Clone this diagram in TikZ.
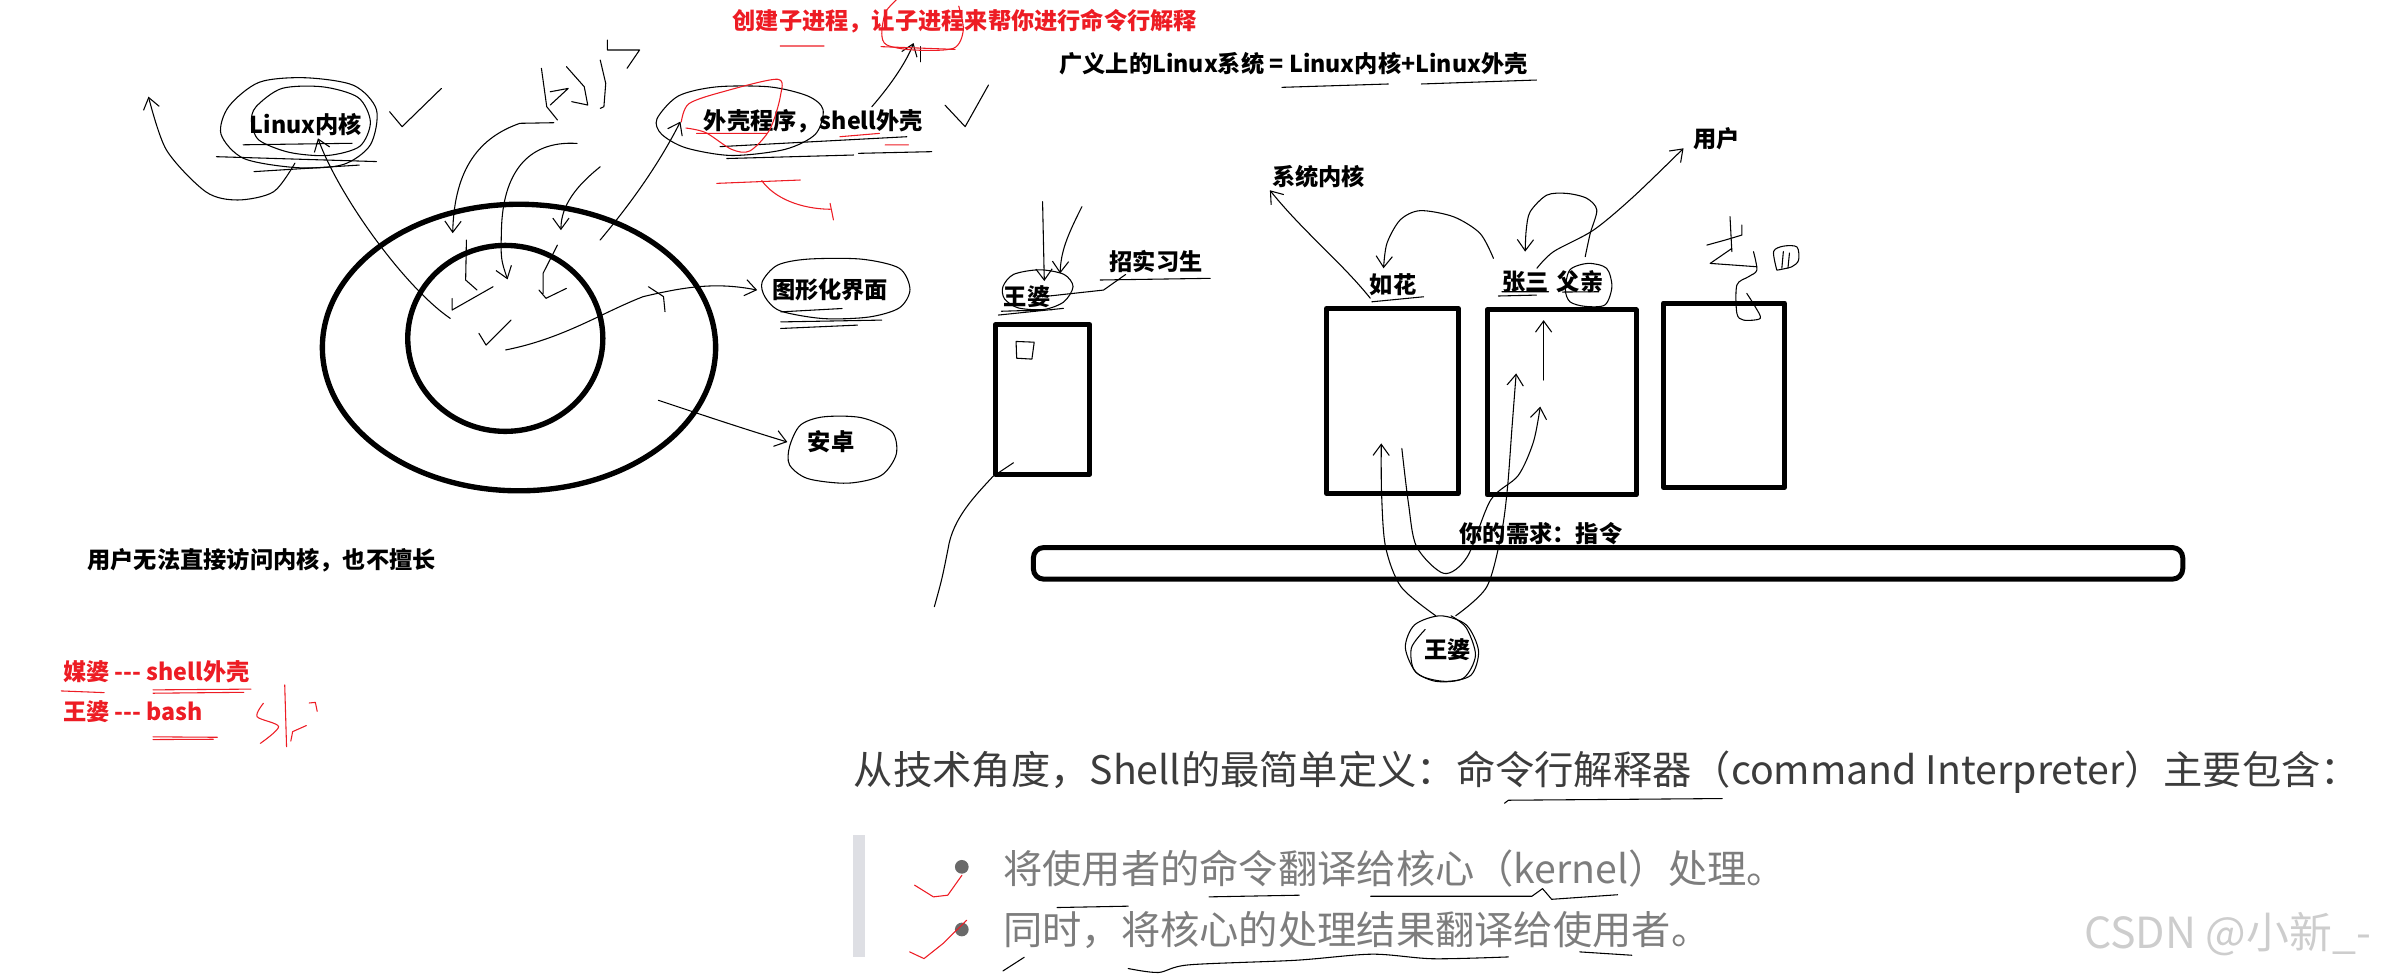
\documentclass[tikz,border=0pt]{standalone}
\usepackage{fontspec}
\setmainfont{Noto Sans CJK SC}
\usetikzlibrary{arrows.meta,positioning}
\definecolor{inkred}{RGB}{237,28,36}
\definecolor{headgray}{RGB}{60,60,60}
\definecolor{bulgray}{RGB}{125,125,125}
\definecolor{dotgray}{RGB}{105,105,105}
\definecolor{bargray}{RGB}{222,223,228}
\definecolor{markgray}{RGB}{205,205,205}

\begin{document}
\begin{tikzpicture}[x=0.03cm, y=-0.03cm, line join=round, line cap=round,
    tag/.style={font=\bfseries\fontsize{13}{15}\selectfont, inner sep=1pt},
    redtag/.style={tag, text=inkred},
    big/.style={font=\fontsize{22}{26}\selectfont, inner sep=0pt, anchor=west},
    scrib/.style={line width=0.6pt},
    redscrib/.style={line width=0.6pt, draw=inkred},
    tip/.style={-{Straight Barb[length=2.2mm,width=3.2mm]}},
    ring/.style={line width=3pt},
    frame/.style={draw, line width=2.8pt, inner sep=0pt}]

    \useasboundingbox (0,0) rectangle (1568,641);

    % left half: kernel and shell
    \coordinate (shellc) at (340.5,228);
    \coordinate (kernc) at (331.5,222);
    \draw[ring] (shellc) ellipse [x radius=129, y radius=94];
    \draw[ring] (kernc) ellipse [x radius=64, y radius=61];

    \node (crtxt) [redtag] at (633,14) {创建子进程，让子进程来帮你进行命令行解释};
    \node (gdef) [tag] at (848.6,42) {广义上的Linux系统 = Linux内核+Linux外壳};
    \node (kern) [tag] at (200.6,82) {Linux内核};
    \node (shell) [tag] at (533.6,79.8) {外壳程序，shell外壳};
    \node (gui) [tag] at (544.6,190.3) {图形化界面};
    \node (andr) [tag] at (545.2,290) {安卓};
    \node (note) [tag, anchor=west] at (56,367.5) {用户无法直接访问内核，也不擅长};
    \node (mp) [redtag, anchor=west] at (40,441) {媒婆 {-}{-}{-} shell外壳};
    \node (wpb) [redtag, anchor=west] at (40,467) {王婆 {-}{-}{-} bash};

    % loops round the labels
    \draw[scrib] plot[smooth cycle] coordinates {(150,70) (170,54) (200,51) (232,56) (247,72) (243,95) (225,108) (195,110) (160,104) (145,88)};
    \draw[scrib] plot[smooth cycle] coordinates {(168,70) (185,58) (212,57) (235,64) (243,80) (236,96) (215,102) (190,100) (170,92) (165,80)};
    \draw[scrib] (159.5,95) -- (231,94) (142,102.8) -- (247,106) (166.6,112.6) -- (235.7,108.3);
    \draw[scrib] plot[smooth cycle] coordinates {(431,78) (445,63) (470,57) (505,57) (530,63) (540,72) (535,88) (515,98) (480,102) (450,97) (434,88)};
    \draw[scrib] (472.4,96.2) -- (594.9,89.7) (476.8,104) -- (560,101.7) (563.2,100.6) -- (611.3,99.5);
    \draw[redscrib] plot[smooth] coordinates {(447,80) (452,68) (475,60) (510,52) (512,63) (505,85) (492,99) (480,98) (463,87) (450,84)};
    \draw[redscrib] (457,87.5) -- (503,87.5) (551,89.7) -- (577,87.5) (580.7,95.1) -- (596,95.1);
    \draw[scrib] plot[smooth cycle] coordinates {(500,185) (510,174) (530,170) (565,170) (590,176) (597,190) (590,202) (570,208) (540,209) (512,204) (502,195)};
    \draw[scrib] (512.2,204.6) -- (552.4,202.4) (512.2,211.2) -- (578.5,210) (512.2,215.5) -- (562.5,213.3);
    \draw[scrib] plot[smooth cycle] coordinates {(518,293) (525,279) (540,273.5) (565,274) (585,283) (588,298) (578,312) (556,317) (530,314) (518,305)};

    % arrows of the left half
    \coordinate (lfree) at (97.4,63.4);
    \draw[scrib, tip] plot[smooth] coordinates {(193.5,107) (179.5,125.8) (156,131.2) (135,125.8) (109.2,98.4) (lfree)};
    \coordinate (core1) at (295.4,208.9);
    \draw[scrib, tip] (core1) .. controls (265,188) and (222,128) .. ([xshift=0.24cm]kern.south);
    \draw[scrib] (255.6,73.3) -- (263.8,83.1) -- (289.6,58);
    % hand written word above the ring
    \draw[scrib] (355.2,44.8) -- (358.7,70) -- (365.7,78.7);
    \draw[scrib] (361,60.2) -- (372.8,58) -- (361,68.9);
    \draw[scrib] (371.6,43.7) -- (383.3,56.9) -- (385.6,68.9) -- (375.1,66.7);
    \draw[scrib] (393.8,39.4) -- (397.4,54.7) -- (396.2,70) -- (393.8,71.1);
    \draw[scrib] (398.5,26.3) -- (398.5,32.8) -- (419.6,32.8) -- (411.4,44.8);
    \draw[scrib, tip] (363.4,80.5) -- (341.1,80.9) .. controls (315,90) and (298,110) .. (297,153);
    \draw[scrib, tip] (378.6,94.1) .. controls (345,92) and (330,115) .. (329,150) .. controls (328.5,170) .. (333,183.3);
    \draw[scrib, tip] (393.8,109.4) .. controls (378,122) and (368,135) .. (368,151);
    \draw[scrib] (306,157.5) -- (305.5,183.7) -- (313,190.3);
    \draw[scrib] (296.6,195.8) -- (296.6,203.4) -- (323.5,188.1);
    \draw[scrib] (365.7,160.8) -- (356.3,179.3) -- (356.3,192.5) (353.6,190.3) -- (358.2,195.7) -- (371.6,189.2);
    \draw[scrib] (314.2,218.7) -- (318.9,226.4) -- (335.3,210);
    \coordinate (shellfoot) at (393.7,157.5);
    \draw[scrib, tip] (shellfoot) .. controls (410,138) and (430,112) .. ([xshift=-0.42cm]shell.west);
    \coordinate (guifoot) at (331.7,229.6);
    \draw[scrib, tip] (guifoot) .. controls (370,222) and (395,205) .. (422,194.6) .. controls (450,188) and (470,185) .. ([xshift=-0.25cm]gui.west);
    \draw[scrib] (425.4,188.1) -- (435.3,194.6) -- (436.3,204.5);
    \coordinate (andrfoot) at (431.9,262.6);
    \draw[scrib, tip] (andrfoot) .. controls (460,272) and (490,282) .. ([xshift=-0.36cm]andr.west);
    \draw[scrib, tip] (572,70) .. controls (585,55) and (595,40) .. ([xshift=-1.01cm, yshift=-0.15cm]crtxt.south);
    \draw[scrib] (603.6,30.6) -- (603.6,40.5);
    \draw[scrib] (620,69) -- (633.2,83.1) -- (648.5,55.8);
    \draw[redscrib] plot[smooth] coordinates {(629,4) (632,19.7) (625.5,31.7) (599.3,32.8) (581.8,29.5) (578.5,21.9) (581,8) (588,0)};
    \draw[redscrib] (511.8,30.2) -- (540.7,30.2) (578,30.6) -- (626.6,32.4);
    \draw[redscrib] (470.2,120.3) -- (525,118.1);
    \draw[redscrib] (499.8,118.5) .. controls (508,130) and (525,137) .. (544.6,137.3) (544.6,133.4) -- (546.8,144.3);
    \draw[redscrib] (100.4,452.6) -- (164.7,452.1) (100.4,454.8) -- (160,454.2) (40.2,453.3) -- (68.3,454.4);
    \draw[redscrib] (100.4,483.4) -- (142.6,483.7) (100.4,485.2) -- (140,485);
    \draw[redscrib] plot[smooth] coordinates {(172.8,461.4) (168.7,470.2) (182.8,476.7) (170.8,487.7)};
    \draw[redscrib] (186.8,449.4) -- (188,489.9);
    \draw[redscrib] (190.8,486.2) -- (192,480) -- (201,476) (202.9,461.2) -- (206.9,460.8) -- (208.1,466.7);

    % right half: the matchmaker story
    \node (wp) [tag] at (673.8,194.7) {王婆};
    \node (intern) [tag] at (758.5,171.3) {招实习生};
    \node (syskern) [tag] at (865,116) {系统内核};
    \node (ruhua) [tag] at (914,187) {如花};
    \node (zs) [tag] at (1000.7,184.8) {张三};
    \node (fq) [tag] at (1036.7,184.8) {父亲};
    \node (user) [tag] at (1126,90.7) {用户};
    \node (need) [tag] at (1011,350) {你的需求：指令};
    \node (wplow) [tag] at (949.8,426.5) {王婆};

    \node (wpbox) [frame, minimum width=1.86cm, minimum height=2.94cm] at (684,262) {};
    \node (rhbox) [frame, minimum width=2.59cm, minimum height=3.64cm] at (913.5,263) {};
    \node (zsbox) [frame, minimum width=2.93cm, minimum height=3.64cm] at (1024.5,264) {};
    \node (lsbox) [frame, minimum width=2.38cm, minimum height=3.63cm] at (1131,259.3) {};
    \node (cmdbar) [frame, rounded corners=0.2cm, minimum width=22.62cm, minimum height=0.62cm] at (1055,369.6) {};

    \draw[scrib] (841,57.3) -- (910.8,55.1) (932.6,55.1) -- (1008,52.5);
    \draw[scrib] plot[smooth cycle] coordinates {(658,188) (665,180) (682,177) (698,180) (704,188) (698,198) (685,203) (668,202) (659,196)};
    \draw[scrib] (655,206.7) -- (697.7,202.3) (657,204.2) -- (690,203.2);
    \draw[scrib, tip] (684,132.3) -- ([xshift=0.34cm, yshift=0.05cm]wp.north);
    \draw[scrib, tip] (709.8,135.6) .. controls (700,155) and (696,165) .. (695.5,179.4);
    \draw[scrib] ([xshift=-0.2cm]wp.east) -- (724,190.3) -- ([xshift=-0.6cm]intern.south);
    \draw[scrib] (721.8,183.7) -- (794,182.6);
    \draw[scrib] (666.6,224) -- (678.5,224.5) -- (677,235.6) -- (667,235) -- cycle;
    \coordinate (wpfree) at (613,398);
    \draw[scrib] (664.9,303.6) -- (wpbox.south west) .. controls (640,325) and (625,340) .. (622,360) .. controls (618,380) .. (wpfree);

    \draw[scrib, tip] ([xshift=-0.45cm]ruhua.south) .. controls (880,172) and (855,152) .. (syskern.south west);
    \draw[scrib] (900,198) -- (934,194.7);
    \draw[scrib, tip] plot[smooth] coordinates {(979.8,169.5) (971,153.1) (953.6,142.2) (931.7,138.2) (918.6,144.3) (909.9,159.7) (907.7,176)};
    \draw[scrib, tip] plot[smooth] coordinates {(1040,168.4) (1043.3,153.1) (1047.6,137.8) (1041,130.1) (1028,126.9) (1014.8,128) (1003.9,138.9) (1001.3,150.9) (1000.6,165.1)};
    \draw[scrib, tip] plot[smooth] coordinates {(1008.3,176) (1019.2,165.1) (1045.5,150.9) (1071.7,129) (1104.5,97.3)};
    \draw[scrib] plot[smooth cycle] coordinates {(1027,190) (1030,177) (1042,172.8) (1054,176) (1057.5,188) (1053,200) (1040,201) (1030,198)};
    \draw[scrib] (985.3,191.4) -- (1016,191.4) (983,194.2) -- (1008,193.6) (1025,191.6) -- (1049,191.4);

    % strokes from the lower 王婆 up into the boxes
    \draw[scrib] plot[smooth cycle] coordinates {(922,425) (928,410) (945,404) (962,410) (970,427) (965,443) (948,447) (930,442)};
    \draw[scrib] plot[smooth] coordinates {(935,413) (926,425) (928,440) (942,447) (960,445) (968,430) (962,412) (952,404)};
    \draw[scrib, tip] plot[smooth] coordinates {(942,404) (919.2,385) (909,358.7) (906.4,323.7) (906.2,290.9)};
    \draw[scrib, tip] plot[smooth] coordinates {(955,404) (975.4,385) (985,350) (989,320) (992,280) (994.7,245)};
    \draw[scrib, tip] plot[smooth] coordinates {(919.7,294.2) (924,330) (929.4,358.7) (947.3,376.2) (962.6,365.3) (978,328) (996,312) (1006,290) (1010.5,266.8)};
    \draw[scrib, tip] (1012.7,249.3) -- (1012.7,210);

    % hand written word at the last box
    \draw[scrib] (1135,142.2) -- (1136.2,165.1);
    \draw[scrib] (1142.8,147.6) -- (1142.8,154.2) -- (1131.8,157.5) -- (1119.8,160.8);
    \draw[scrib] (1136.2,163) -- (1122,172.8) -- (1152.6,175);
    \draw[scrib] plot[smooth] coordinates {(1150.4,165.1) (1152.6,177.2) (1147.2,181.5) (1139.5,187) (1139.5,205.6) (1143.9,210) (1154.8,208.9) (1151.5,201.2) (1146,192.5)};
    \draw[scrib] plot[smooth] coordinates {(1165.7,177.2) (1163.6,165) (1170,161.5) (1178.9,162) (1180,170.6) (1175.6,175) (1166,177.2)};
    \draw[scrib] (1170,165) -- (1169,176) (1174,166) -- (1173,176);

    % bottom notes
    \node (head) [big, text=headgray] at (560,506.4) {从技术角度，Shell的最简单定义：命令行解释器（command Interpreter）主要包含：};
    \fill[bargray] (559.7,548) rectangle (567.7,628);
    \node (b1) [big, text=bulgray] at (657.9,569.8) {将使用者的命令翻译给核心（kernel）处理。};
    \node (b2) [big, text=bulgray] at (657.9,610.3) {同时，将核心的处理结果翻译给使用者。};
    \fill[dotgray] (631,568.7) circle [radius=4.5];
    \fill[dotgray] (631,609.8) circle [radius=4.5];
    \node (wm) [font=\fontsize{24}{28}\selectfont, text=markgray, anchor=west, inner sep=0pt] at (1367,613) {CSDN @小新\_-};

    \draw[scrib] (987,527) -- (989.6,525) -- (1129.9,523.9);
    \draw[scrib] (793.2,588.4) -- (852.4,587.3);
    \draw[scrib] (899.2,588) -- (1005,588) -- (1012,583) -- (1018,590) -- (1061.3,587);
    \draw[scrib] (693.5,595.4) -- (740.2,594.5);
    \draw[scrib] plot[smooth] coordinates {(740.2,635.4) (760,638) (780,633) (850,630) (900,626) (940,629) (989.6,627.8)};
    \draw[scrib] (1036.4,624.5) -- (1070.6,626.7) (658,637) -- (672,628);
    \draw[redscrib] (600,580.7) -- (612.4,588.4) -- (621.8,587.3) -- (631.1,574.2);
    \draw[redscrib] (596.8,624.5) -- (606.2,628.9) -- (618.7,619) -- (634.2,603.7);
\end{tikzpicture}
\end{document}
